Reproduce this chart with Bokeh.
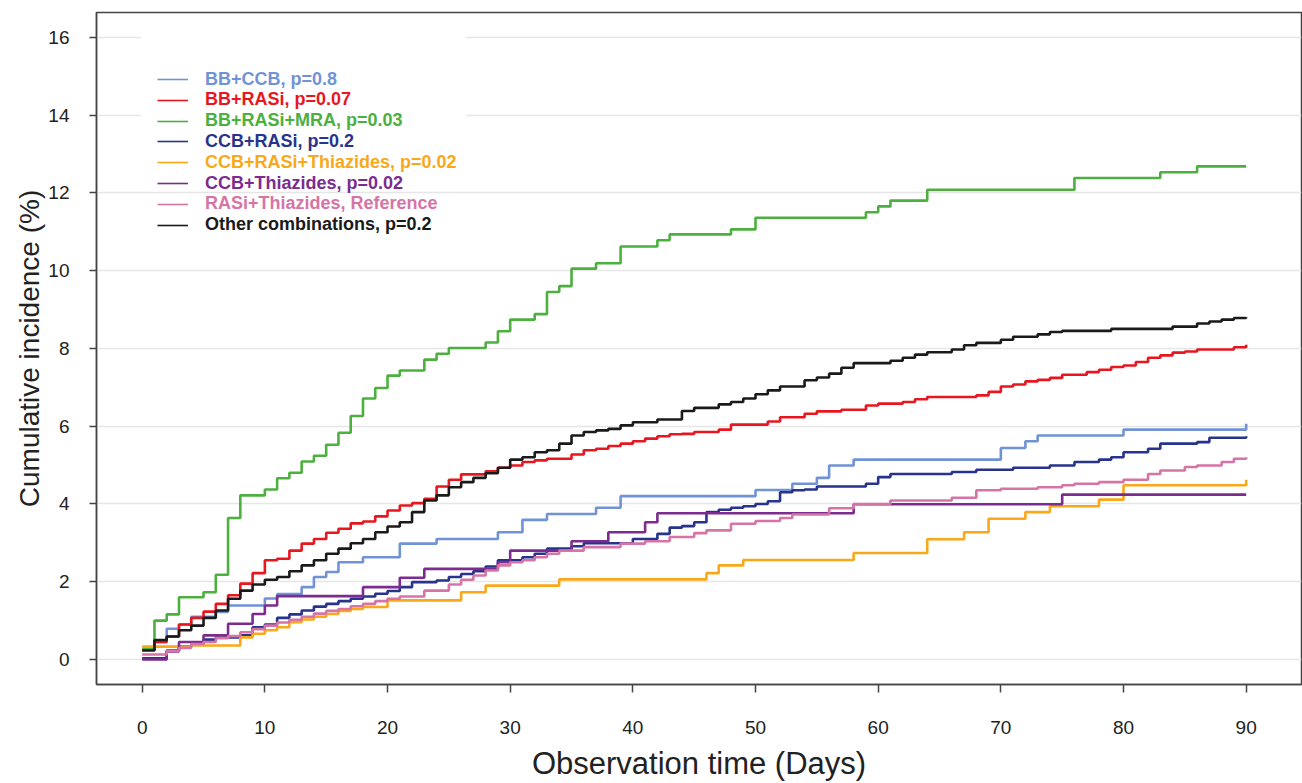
from bokeh.plotting import figure
from bokeh.models import Range1d, Legend, LegendItem, FixedTicker, BoxAnnotation
from bokeh.embed import file_html
from bokeh.resources import INLINE

# ---------------- data ----------------
series_names = [
    "BB+CCB, p=0.8",
    "BB+RASi, p=0.07",
    "BB+RASi+MRA, p=0.03",
    "CCB+RASi, p=0.2",
    "CCB+RASi+Thiazides, p=0.02",
    "CCB+Thiazides, p=0.02",
    "RASi+Thiazides, Reference",
    "Other combinations, p=0.2",
]

bb_ccb_t = [0, 1, 2, 3, 4, 6, 7, 10, 11, 13, 14, 15, 16, 18, 21, 24, 29, 31, 33, 37,
            39, 50, 53, 55, 56, 58, 70, 72, 73, 80, 90]
bb_ccb_y = [0.25, 0.45, 0.79, 0.9, 1.1, 1.22, 1.39, 1.57, 1.68, 1.86, 2.12, 2.25, 2.5, 2.63,
            2.98, 3.1, 3.27, 3.59, 3.74, 3.9, 4.2, 4.36, 4.52, 4.67, 4.99, 5.14, 5.44, 5.61,
            5.76, 5.91, 6.06]

bb_rasi_t = [0, 1, 2, 3, 4, 5, 6, 7, 8, 9, 10, 11, 12, 13, 14, 15, 16, 17, 18, 19, 20, 21,
             22, 23, 24, 25, 26, 28, 29, 30, 31, 32, 33, 35, 36, 37, 38, 39, 40, 41, 42, 43,
             44, 45, 47, 48, 51, 52, 54, 55, 57, 59, 60, 62, 63, 64, 68, 69, 70, 71, 72, 73,
             74, 75, 77, 78, 79, 80, 81, 82, 83, 84, 85, 86, 89, 90]
bb_rasi_y = [0.25, 0.45, 0.59, 0.9, 1.07, 1.23, 1.43, 1.65, 1.95, 2.22, 2.55, 2.59, 2.8, 2.98,
             3.1, 3.26, 3.36, 3.5, 3.55, 3.68, 3.83, 3.96, 4.02, 4.13, 4.45, 4.62, 4.76, 4.84,
             4.93, 4.99, 5.08, 5.12, 5.16, 5.27, 5.38, 5.42, 5.49, 5.55, 5.61, 5.68, 5.74,
             5.79, 5.8, 5.85, 5.91, 6.04, 6.12, 6.23, 6.32, 6.38, 6.42, 6.53, 6.58, 6.62,
             6.69, 6.75, 6.79, 6.88, 7.02, 7.07, 7.15, 7.19, 7.24, 7.32, 7.39, 7.45, 7.52,
             7.56, 7.65, 7.76, 7.82, 7.89, 7.92, 7.97, 8.03, 8.09]

bb_rasi_mra_t = [0, 1, 2, 3, 5, 6, 7, 8, 10, 11, 12, 13, 14, 15, 16, 17, 18, 19, 20, 21, 23,
                 24, 25, 28, 29, 30, 32, 33, 34, 35, 37, 39, 42, 43, 48, 50, 59, 60, 61, 64,
                 76, 83, 86, 90]
bb_rasi_mra_y = [0.27, 1.0, 1.16, 1.6, 1.73, 2.18, 3.64, 4.22, 4.37, 4.66, 4.8, 5.09, 5.24,
                 5.52, 5.83, 6.26, 6.71, 6.98, 7.3, 7.43, 7.71, 7.86, 8.01, 8.15, 8.44, 8.74,
                 8.88, 9.45, 9.6, 10.05, 10.19, 10.62, 10.78, 10.93, 11.06, 11.36, 11.5, 11.65,
                 11.8, 12.08, 12.38, 12.53, 12.68, 12.68]

ccb_rasi_t = [0, 2, 3, 4, 5, 6, 8, 9, 10, 11, 12, 13, 14, 15, 16, 17, 18, 19, 20, 21, 22, 24,
              25, 26, 27, 28, 29, 31, 32, 33, 35, 36, 40, 42, 43, 44, 45, 46, 47, 48, 49, 50,
              51, 52, 53, 54, 55, 59, 60, 61, 66, 68, 71, 74, 76, 78, 79, 80, 82, 83, 86, 87, 90]
ccb_rasi_y = [0.03, 0.23, 0.34, 0.39, 0.51, 0.57, 0.62, 0.83, 0.9, 1.07, 1.16, 1.26, 1.36,
              1.43, 1.5, 1.56, 1.62, 1.69, 1.76, 1.86, 1.99, 2.03, 2.12, 2.2, 2.27, 2.39, 2.55,
              2.63, 2.72, 2.85, 2.91, 2.99, 3.1, 3.23, 3.39, 3.43, 3.53, 3.79, 3.85, 3.9, 3.94,
              4.0, 4.07, 4.3, 4.35, 4.37, 4.45, 4.52, 4.69, 4.77, 4.82, 4.88, 4.93, 4.99, 5.08,
              5.14, 5.2, 5.33, 5.42, 5.55, 5.59, 5.7, 5.74]

ccb_rasi_thz_t = [0, 4, 8, 9, 10, 11, 12, 13, 14, 15, 16, 17, 18, 20, 26, 28, 34, 46, 47, 49,
                  58, 64, 67, 69, 72, 74, 78, 80, 90]
ccb_rasi_thz_y = [0.33, 0.36, 0.57, 0.66, 0.75, 0.83, 0.96, 1.03, 1.1, 1.17, 1.25, 1.3, 1.35,
                  1.52, 1.73, 1.9, 2.06, 2.22, 2.42, 2.56, 2.74, 3.09, 3.27, 3.62, 3.79, 3.94,
                  4.11, 4.48, 4.62]

ccb_thz_t = [0, 2, 3, 5, 7, 9, 10, 11, 18, 21, 23, 29, 30, 35, 38, 41, 42, 58, 75, 90]
ccb_thz_y = [0.0, 0.21, 0.45, 0.62, 0.92, 1.17, 1.39, 1.63, 1.86, 2.1, 2.33, 2.5, 2.8, 3.04,
             3.27, 3.53, 3.76, 3.99, 4.24, 4.24]

rasi_thz_t = [0, 2, 3, 4, 5, 6, 7, 8, 9, 10, 11, 12, 13, 14, 15, 16, 17, 18, 19, 20, 21, 23,
              25, 26, 27, 28, 29, 30, 31, 32, 33, 34, 36, 39, 41, 43, 45, 46, 48, 50, 52, 53,
              56, 58, 61, 66, 68, 70, 73, 75, 76, 78, 80, 82, 83, 85, 86, 88, 89, 90]
rasi_thz_y = [0.13, 0.22, 0.3, 0.4, 0.45, 0.55, 0.6, 0.7, 0.78, 0.87, 0.95, 1.02, 1.1, 1.18,
              1.25, 1.3, 1.37, 1.43, 1.5, 1.56, 1.62, 1.77, 1.93, 2.05, 2.16, 2.29, 2.42, 2.5,
              2.55, 2.63, 2.72, 2.8, 2.89, 2.98, 3.04, 3.15, 3.25, 3.32, 3.49, 3.56, 3.64, 3.73,
              3.89, 4.0, 4.09, 4.16, 4.35, 4.39, 4.43, 4.48, 4.52, 4.56, 4.62, 4.77, 4.86, 4.95,
              4.99, 5.08, 5.16, 5.2]

other_t = [0, 1, 2, 3, 4, 5, 6, 7, 8, 9, 10, 11, 12, 13, 14, 15, 16, 17, 18, 19, 20, 21, 22,
           23, 24, 25, 26, 27, 28, 29, 30, 31, 32, 33, 34, 35, 36, 37, 38, 39, 40, 42, 44, 45,
           47, 48, 49, 50, 51, 52, 54, 55, 56, 57, 58, 61, 62, 63, 64, 66, 67, 68, 70, 71, 73,
           74, 75, 79, 84, 86, 87, 88, 89, 90]
other_y = [0.23, 0.5, 0.59, 0.75, 0.87, 1.07, 1.26, 1.56, 1.77, 1.93, 2.05, 2.12, 2.27, 2.42,
           2.55, 2.72, 2.85, 2.99, 3.1, 3.27, 3.42, 3.53, 3.79, 4.09, 4.22, 4.43, 4.56, 4.67,
           4.79, 4.93, 5.14, 5.2, 5.33, 5.38, 5.55, 5.76, 5.85, 5.89, 5.93, 6.02, 6.1, 6.17,
           6.39, 6.47, 6.56, 6.62, 6.71, 6.82, 6.92, 7.02, 7.18, 7.25, 7.35, 7.5, 7.62, 7.68,
           7.76, 7.84, 7.9, 7.97, 8.08, 8.14, 8.22, 8.3, 8.36, 8.42, 8.45, 8.5, 8.56, 8.64,
           8.69, 8.74, 8.78, 8.8]

x_ticks = [0, 10, 20, 30, 40, 50, 60, 70, 80, 90]
y_ticks = [0, 2, 4, 6, 8, 10, 12, 14, 16]

# ---------------- style ----------------
colors = ["#7193d6", "#e8161f", "#4cb03e", "#27338c", "#f9a81a", "#7c2c8e", "#d774a6", "#1a1a1a"]
series = [
    (bb_ccb_t, bb_ccb_y),
    (bb_rasi_t, bb_rasi_y),
    (bb_rasi_mra_t, bb_rasi_mra_y),
    (ccb_rasi_t, ccb_rasi_y),
    (ccb_rasi_thz_t, ccb_rasi_thz_y),
    (ccb_thz_t, ccb_thz_y),
    (rasi_thz_t, rasi_thz_y),
    (other_t, other_y),
]
FONT = "Liberation Sans"
AXC = "#444444"

p = figure(width=1302, height=783, output_backend="svg", toolbar_location=None,
           x_range=Range1d(-3.725, 94.51), y_range=Range1d(-0.643, 16.636),
           min_border_left=96, min_border_right=1, min_border_top=12, min_border_bottom=99,
           background_fill_color="white", border_fill_color="white")

p.outline_line_color = AXC
p.outline_line_width = 1.5
p.xgrid.visible = False
p.ygrid.ticker = FixedTicker(ticks=y_ticks)
p.ygrid.grid_line_color = "#e6e6e6"
p.ygrid.grid_line_width = 1.5

for ax in (p.xaxis[0], p.yaxis[0]):
    ax.axis_line_color = AXC
    ax.axis_line_width = 1.5
    ax.major_tick_line_color = AXC
    ax.major_tick_line_width = 1.5
    ax.major_tick_in = 0
    ax.minor_tick_line_color = None
    ax.major_label_text_font = FONT
    ax.major_label_text_font_size = "19px"
    ax.major_label_text_color = "#222222"
    ax.axis_label_text_font = FONT
    ax.axis_label_text_font_style = "normal"
    ax.axis_label_text_color = "#222222"

p.xaxis.ticker = FixedTicker(ticks=x_ticks)
p.xaxis.major_tick_out = 8
p.xaxis.major_label_standoff = 28
p.xaxis.axis_label = "Observation time (Days)"
p.xaxis.axis_label_text_font_size = "31px"
p.xaxis.axis_label_standoff = 9

p.yaxis.ticker = FixedTicker(ticks=y_ticks)
p.yaxis.major_tick_out = 7
p.yaxis.major_label_standoff = 20
p.yaxis.major_label_orientation = "horizontal"
p.yaxis.axis_label = "Cumulative incidence (%)"
p.yaxis.axis_label_text_font_size = "28px"
p.yaxis.axis_label_standoff = 0

# curves
for (t, y), c in zip(series, colors):
    p.step(x=t, y=y, mode="after", line_width=2.6, line_color=c)

# legend background (covers gridlines behind legend)
p.add_layout(BoxAnnotation(left=-0.1, right=26.4, bottom=12.5, top=16.35,
                           fill_color="white", fill_alpha=1.0, line_color=None))

# legend: one per entry so each label can take its series colour
for i, (name, c) in enumerate(zip(series_names, colors)):
    swatch = p.line(x=[float("nan")], y=[float("nan")], line_color=c, line_width=1.6)
    leg = Legend(items=[LegendItem(label=name, renderers=[swatch])],
                 location=(61, 594 - 20.8 * i),
                 background_fill_alpha=0, border_line_alpha=0,
                 padding=0, margin=0, spacing=0,
                 glyph_width=31, glyph_height=22, label_height=22, label_standoff=17,
                 label_text_font=FONT, label_text_font_style="bold",
                 label_text_font_size="18px", label_text_color=c)
    p.add_layout(leg)

open("out.html", "w").write(file_html(p, INLINE))
